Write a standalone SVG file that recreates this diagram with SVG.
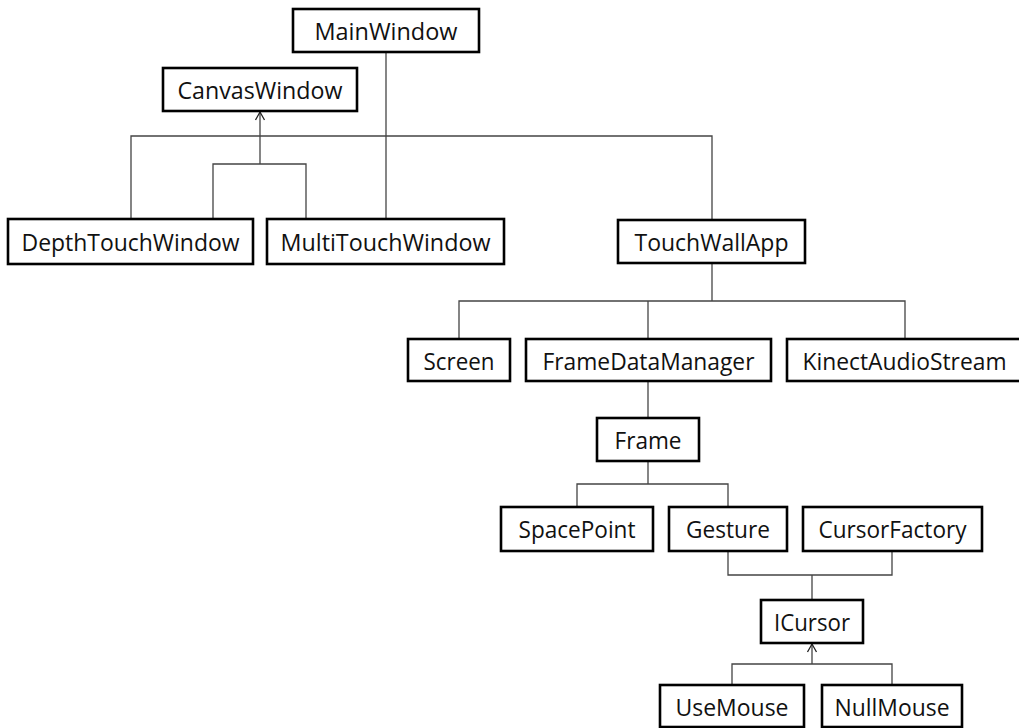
<svg xmlns="http://www.w3.org/2000/svg" width="1019" height="728" viewBox="0 0 1019 728">
<style>
.box{fill:#fff;stroke:#000;stroke-width:2.6}
.lbl{font-family:"Open Sans","Noto Sans","Liberation Sans",sans-serif;font-size:23px;fill:#111;text-anchor:middle}
.c{fill:none;stroke:#444;stroke-width:1.3}
</style>
<defs>
<marker id="open" markerUnits="userSpaceOnUse" markerWidth="12" markerHeight="14" viewBox="-10 -7 12 14" refX="0" refY="0" orient="auto">
<path d="M-8,-4.5 L0,0 L-8,4.5" fill="none" stroke="#222" stroke-width="1.3"/>
</marker>
</defs>
<rect width="1019" height="728" fill="#fff"/>
<g id="connectors">
<path class="c" d="M386,52 V219"/>
<path class="c" d="M131,219 V136 H712 V220"/>
<path class="c" d="M213,219 V164 H306 V219"/>
<path class="c" d="M260,164 V112" marker-end="url(#open)"/>
<path class="c" d="M712,263 V301"/>
<path class="c" d="M459,339 V301 H905 V339"/>
<path class="c" d="M648,301 V339"/>
<path class="c" d="M648,381 V418"/>
<path class="c" d="M648,461 V484"/>
<path class="c" d="M577,507 V484 H728 V507"/>
<path class="c" d="M728,551 V575 H892 V551"/>
<path class="c" d="M812,575 V600"/>
<path class="c" d="M732,685 V664 H892 V685"/>
<path class="c" d="M812,664 V644" marker-end="url(#open)"/>
</g>
<g id="MainWindow"><rect class="box" x="293" y="9" width="186" height="43"/><text class="lbl" x="386" y="40" textLength="143" lengthAdjust="spacingAndGlyphs">MainWindow</text></g>
<g id="CanvasWindow"><rect class="box" x="163" y="68" width="194" height="43"/><text class="lbl" x="260" y="99" textLength="165" lengthAdjust="spacingAndGlyphs">CanvasWindow</text></g>
<g id="DepthTouchWindow"><rect class="box" x="8" y="219" width="245" height="45"/><text class="lbl" x="130.5" y="251" textLength="218" lengthAdjust="spacingAndGlyphs">DepthTouchWindow</text></g>
<g id="MultiTouchWindow"><rect class="box" x="267" y="219" width="237" height="45"/><text class="lbl" x="385.5" y="251" textLength="210" lengthAdjust="spacingAndGlyphs">MultiTouchWindow</text></g>
<g id="TouchWallApp"><rect class="box" x="618" y="220" width="187" height="43"/><text class="lbl" x="711.5" y="251" textLength="154" lengthAdjust="spacingAndGlyphs">TouchWallApp</text></g>
<g id="Screen"><rect class="box" x="408" y="339" width="102" height="42"/><text class="lbl" x="459" y="369.5" textLength="71" lengthAdjust="spacingAndGlyphs">Screen</text></g>
<g id="FrameDataManager"><rect class="box" x="526" y="339" width="245" height="42"/><text class="lbl" x="648.5" y="369.5" textLength="212" lengthAdjust="spacingAndGlyphs">FrameDataManager</text></g>
<g id="KinectAudioStream"><rect class="box" x="787" y="339" width="237" height="42"/><text class="lbl" x="904.5" y="369.5" textLength="204" lengthAdjust="spacingAndGlyphs">KinectAudioStream</text></g>
<g id="Frame"><rect class="box" x="597" y="418" width="102" height="43"/><text class="lbl" x="648" y="449" textLength="67" lengthAdjust="spacingAndGlyphs">Frame</text></g>
<g id="SpacePoint"><rect class="box" x="501" y="507" width="152" height="44"/><text class="lbl" x="577" y="538" textLength="117" lengthAdjust="spacingAndGlyphs">SpacePoint</text></g>
<g id="Gesture"><rect class="box" x="669" y="507" width="118" height="44"/><text class="lbl" x="728" y="538" textLength="84" lengthAdjust="spacingAndGlyphs">Gesture</text></g>
<g id="CursorFactory"><rect class="box" x="803" y="507" width="179" height="44"/><text class="lbl" x="892.5" y="538" textLength="148" lengthAdjust="spacingAndGlyphs">CursorFactory</text></g>
<g id="ICursor"><rect class="box" x="761" y="600" width="102" height="43"/><text class="lbl" x="812" y="631" textLength="76" lengthAdjust="spacingAndGlyphs">ICursor</text></g>
<g id="UseMouse"><rect class="box" x="660" y="685" width="144" height="42"/><text class="lbl" x="732" y="715.5" textLength="113" lengthAdjust="spacingAndGlyphs">UseMouse</text></g>
<g id="NullMouse"><rect class="box" x="822" y="685" width="140" height="42"/><text class="lbl" x="892" y="715.5" textLength="115" lengthAdjust="spacingAndGlyphs">NullMouse</text></g>
</svg>
